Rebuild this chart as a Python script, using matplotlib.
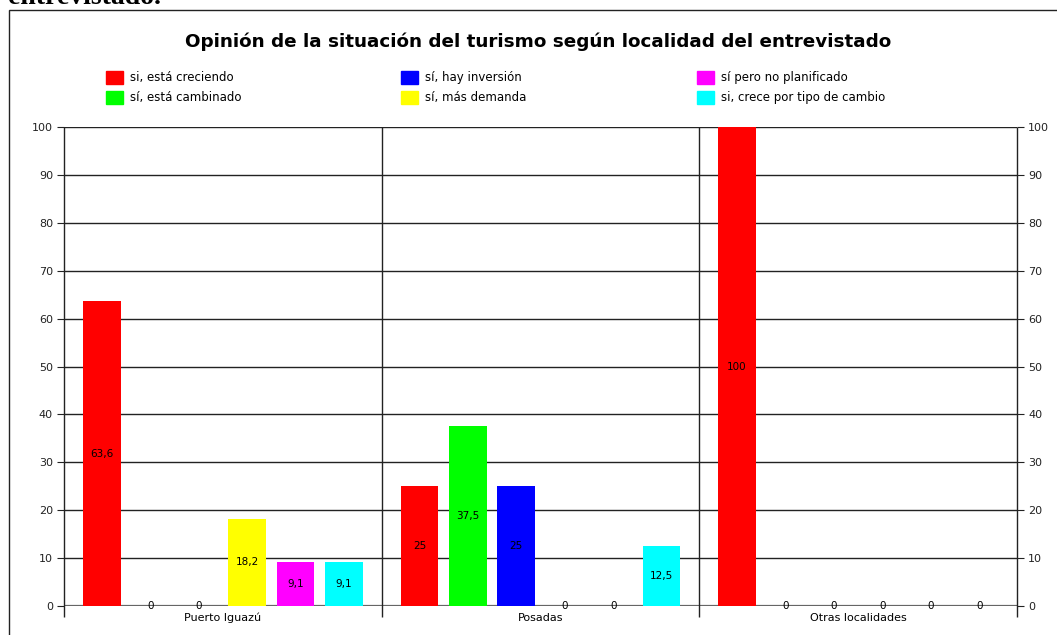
import matplotlib.pyplot as plt
from matplotlib.patches import Rectangle

plt.rcParams['font.family'] = ['DejaVu Sans']

localidades = ['Puerto Iguazú', 'Posadas', 'Otras localidades']
respuestas = ['si, está creciendo', 'sí, está cambinado', 'sí, hay inversión',
              'sí, más demanda', 'sí pero no planificado', 'si, crece por tipo de cambio']
colores = ['#ff0000', '#00ff00', '#0000ff', '#ffff00', '#ff00ff', '#00ffff']

creciendo = [63.6, 25, 100]
cambinado = [0, 37.5, 0]
inversion = [0, 25, 0]
demanda = [18.2, 0, 0]
no_planificado = [9.1, 0, 0]
tipo_cambio = [9.1, 12.5, 0]
series = [creciendo, cambinado, inversion, demanda, no_planificado, tipo_cambio]


def fmt(v):
    return f'{v:g}'.replace('.', ',')


W, H = 1057, 635
fig = plt.figure(figsize=(W / 100, H / 100), dpi=100)
ax = fig.add_axes([64 / W, 1 - 606 / H, (1017 - 64) / W, (606 - 127) / H])

grupo = 6.56
ancho = 0.78
for j, vals in enumerate(series):
    x = [g * grupo + 0.78 + j for g in range(len(localidades))]
    ax.bar(x, vals, width=ancho, color=colores[j], zorder=3)
    for xi, v in zip(x, vals):
        ax.text(xi, v / 2, fmt(v), ha='center', va='center', fontsize=7.5, zorder=4)

ax.set_xlim(0, grupo * len(localidades))
ax.set_ylim(0, 100)
ax.set_yticks(range(0, 101, 10))
ax.yaxis.grid(True, color='#222222', lw=1)
ax.axhline(0, color='#666666', lw=1.6, zorder=2)
for s in ax.spines.values():
    s.set_visible(False)
ax.vlines([grupo * g for g in range(len(localidades) + 1)], -2.3, 100,
          color='#222222', lw=1, clip_on=False)
ax.tick_params(axis='y', direction='out', length=5, color='#222222',
               labelsize=8, labelcolor='#222222', pad=3)
ax.set_xticks([grupo * (g + 0.5) for g in range(len(localidades))])
ax.set_xticklabels(localidades, fontsize=8)
ax.tick_params(axis='x', length=0, pad=5)

ax2 = ax.twinx()
ax2.set_ylim(0, 100)
ax2.set_yticks(range(0, 101, 10))
for s in ax2.spines.values():
    s.set_visible(False)
ax2.tick_params(axis='y', direction='out', length=5, color='#222222',
                labelsize=8, labelcolor='#222222', pad=3)

fig.text(538 / W, 1 - 42 / H, 'Opinión de la situación del turismo según localidad del entrevistado',
         ha='center', va='center', fontsize=13.2, fontweight='bold')

# leyenda manual en tres columnas
col_x = [106, 401, 697]
fila_y = [77, 97]
for j, (txt, c) in enumerate(zip(respuestas, colores)):
    cx = col_x[j // 2]
    cy = fila_y[j % 2]
    fig.add_artist(Rectangle((cx / W, 1 - (cy + 6.5) / H), 17 / W, 13 / H,
                             transform=fig.transFigure, color=c))
    fig.text((cx + 24) / W, 1 - cy / H, txt, ha='left', va='center', fontsize=8.5)

fig.add_artist(Rectangle((9 / W, -0.05), 1.1, 1 - 10 / H + 0.05,
                         transform=fig.transFigure, fill=False, lw=1, ec='#222222'))
fig.text(8 / W, 1 - 4 / H, 'entrevistado.', family='Liberation Serif', fontsize=20,
         fontweight='bold', va='baseline')

fig.savefig('out.png', dpi=100)
